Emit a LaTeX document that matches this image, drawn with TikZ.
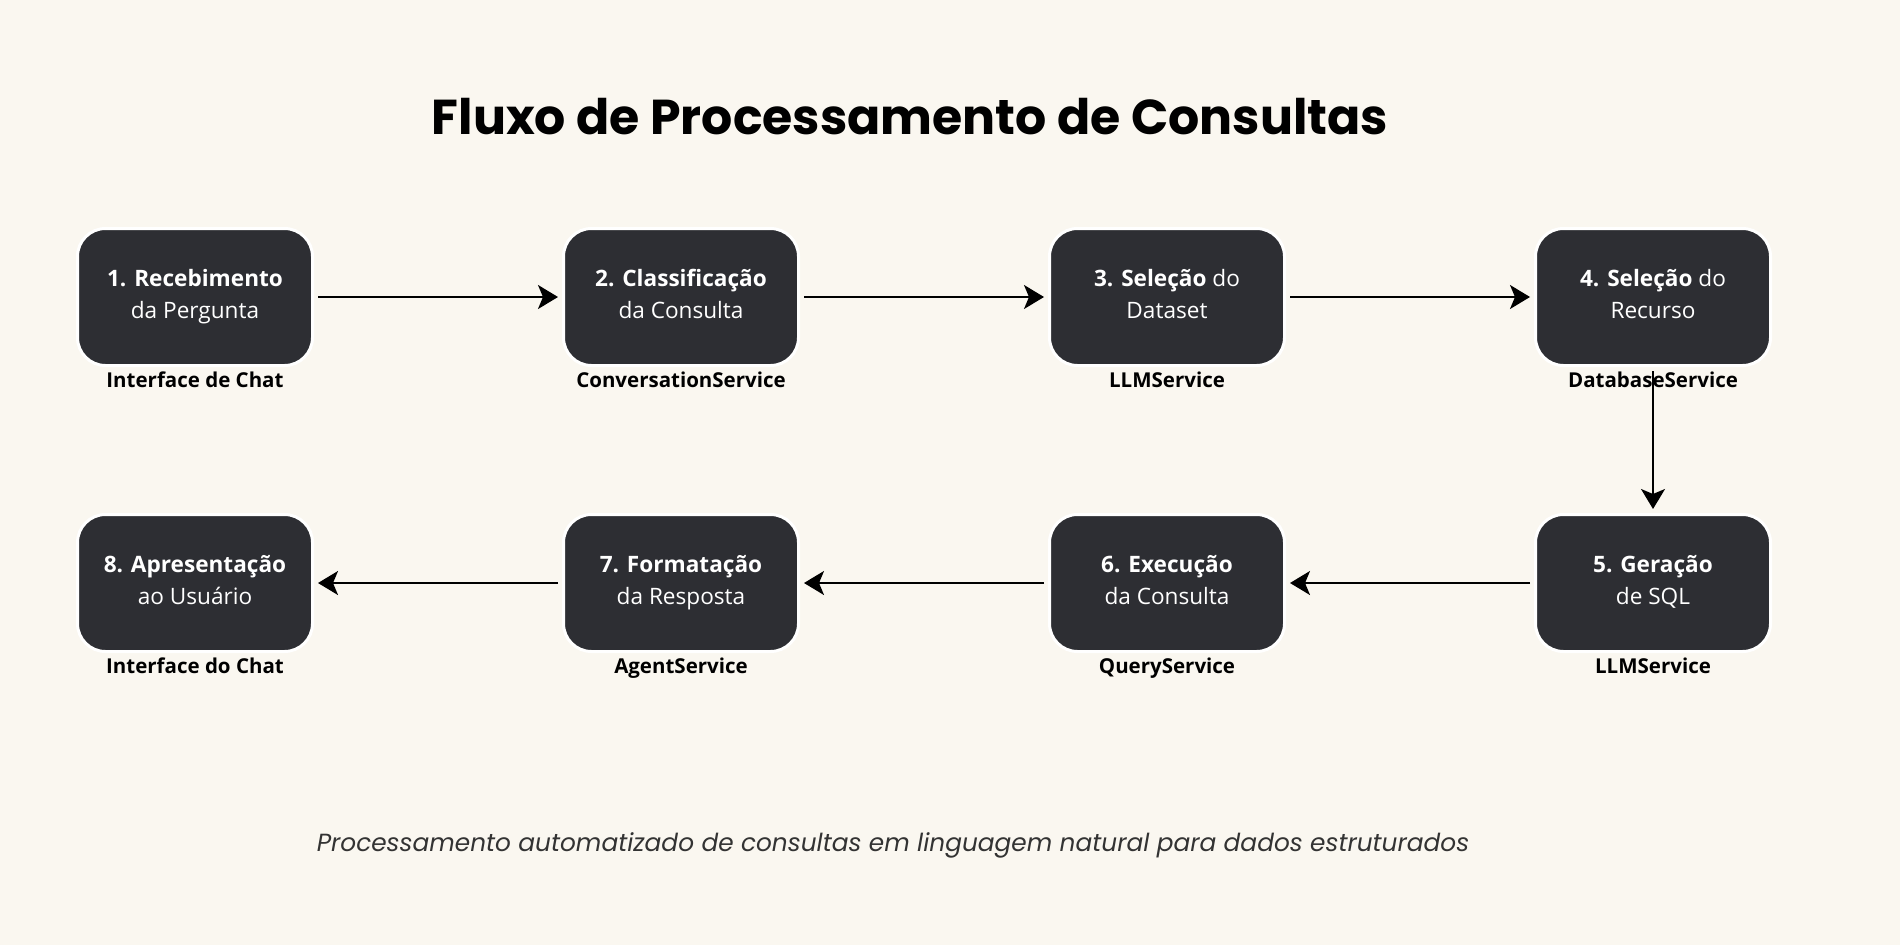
\documentclass[tikz,border=0pt]{standalone}
\usepackage{fontspec}
\setmainfont{Open Sans}
\newfontfamily\titlefont{Poppins}
\usepackage{tikz}
\usetikzlibrary{arrows.meta}
\definecolor{bgcream}{HTML}{FAF7F0}
\definecolor{boxdark}{HTML}{2D2E33}
\tikzset{
	stagebox/.style={rectangle, rounded corners=28pt, fill=boxdark, draw=white,
		line width=3pt, minimum width=235pt, minimum height=137pt, text=white, align=center,
		font=\fontsize{22.6}{32}\selectfont, execute at begin node=\rule{0pt}{28pt},
		execute at end node=\rule[-6pt]{0pt}{6pt}},
	servicelabel/.style={text=black, font=\bfseries\fontsize{20.5}{22}\selectfont, label distance=1pt}
}

\begin{document}
\begin{tikzpicture}[x=1pt,y=1pt]
	\fill[bgcream] (0,0) rectangle (1900,-945);
	\useasboundingbox (0,0) rectangle (1900,-945);
	\node (title) at (910,-117) {\titlefont\bfseries\fontsize{49}{55}\selectfont Fluxo de Processamento de Consultas};
	\begin{scope}[every label/.append style={servicelabel}]
		\node[stagebox, label=below:Interface de Chat] (S1) at (195,-297) {\textbf{1. Recebimento}\\da Pergunta};
		\node[stagebox, label=below:ConversationService] (S2) at (681,-297) {\textbf{2. Classificação}\\da Consulta};
		\node[stagebox, label=below:LLMService] (S3) at (1167,-297) {\textbf{3. Seleção} do\\Dataset};
		\node[stagebox, label=below:DatabaseService] (S4) at (1653,-297) {\textbf{4. Seleção} do\\Recurso};
		\node[stagebox, label=below:LLMService] (S5) at (1653,-583) {\textbf{5. Geração}\\de SQL};
		\node[stagebox, label=below:QueryService] (S6) at (1167,-583) {\textbf{6. Execução}\\da Consulta};
		\node[stagebox, label=below:AgentService] (S7) at (681,-583) {\textbf{7. Formatação}\\da Resposta};
		\node[stagebox, label=below:Interface do Chat] (S8) at (195,-583) {\textbf{8. Apresentação}\\ao Usuário};
	\end{scope}
	\begin{scope}[>={Stealth[black, length=20pt, width=24pt, inset=5pt]},
			every edge/.style={draw=black, line width=2pt, shorten >=4pt, shorten <=4pt}]
		\path [->] (S1) edge  (S2);
		\path [->] (S2) edge  (S3);
		\path [->] (S3) edge  (S4);
		\path [->] (S4) edge  (S5);
		\path [->] (S5) edge  (S6);
		\path [->] (S6) edge  (S7);
		\path [->] (S7) edge  (S8);
	\end{scope}
	\node[text=black!80] (note) at (893,-845) {\titlefont\itshape\fontsize{24.8}{28}\selectfont Processamento automatizado de consultas em linguagem natural para dados estruturados};
\end{tikzpicture}
\end{document}
